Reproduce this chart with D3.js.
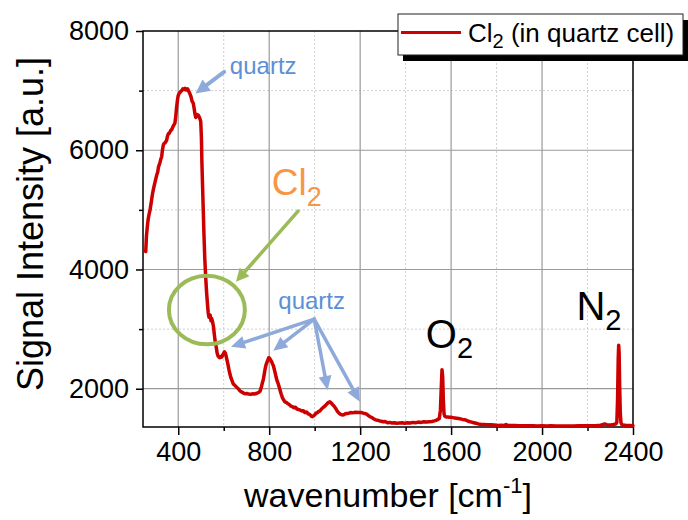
<!DOCTYPE html>
<html>
<head>
<meta charset="utf-8">
<script src="https://cdn.jsdelivr.net/npm/d3@7"></script>
<style>
  html, body { margin: 0; padding: 0; background: #fff; }
  svg { display: block; }
</style>
</head>
<body>
<svg id="chart" width="688" height="520"></svg>
<script>
// Raman spectrum of Cl2 in a quartz cell (wavenumber in cm^-1, intensity in a.u.)
const wavenumber = [
  257, 260, 264, 268, 272, 276, 281, 286, 290, 295, 300, 305, 310, 313, 316, 320, 324, 327, 330, 334,
  337, 341, 345, 349, 353, 357, 360, 364, 368, 371, 375, 380, 385, 389, 393, 397, 400, 405, 410, 415,
  420, 425, 430, 434, 437, 441, 446, 451, 456, 461, 466, 470, 473, 477, 481, 485, 488, 492, 496, 499,
  502, 504, 507, 510, 513, 517, 521, 525, 529, 532, 535, 538, 541, 544, 547, 551, 555, 559, 563, 567,
  571, 575, 579, 583, 587, 591, 595, 599, 603, 607, 611, 615, 619, 623, 627, 632, 637, 642, 648, 653,
  658, 664, 670, 676, 682, 688, 695, 702, 710, 718, 726, 734, 742, 750, 756, 760, 765, 770, 774, 778,
  782, 786, 790, 794, 798, 802, 806, 810, 814, 818, 822, 826, 830, 835, 840, 846, 852, 858, 864, 869,
  875, 882, 888, 895, 902, 908, 915, 922, 930, 937, 944, 950, 957, 964, 971, 978, 985, 990, 995, 1000,
  1006, 1012, 1018, 1024, 1030, 1036, 1042, 1048, 1055, 1061, 1067, 1073, 1080, 1087, 1094, 1100, 1107, 1114, 1121, 1128,
  1135, 1142, 1150, 1158, 1166, 1174, 1182, 1190, 1198, 1206, 1214, 1222, 1230, 1238, 1246, 1254, 1262, 1270, 1278, 1286,
  1294, 1302, 1310, 1320, 1330, 1340, 1350, 1360, 1372, 1384, 1396, 1408, 1420, 1432, 1444, 1456, 1468, 1480, 1492, 1504,
  1516, 1526, 1534, 1540, 1548, 1553, 1556, 1560, 1563, 1566, 1569, 1572, 1576, 1580, 1585, 1592, 1600, 1608, 1616, 1624,
  1632, 1640, 1650, 1660, 1670, 1680, 1690, 1700, 1710, 1720, 1730, 1745, 1760, 1775, 1790, 1805, 1820, 1835, 1842, 1848,
  1860, 1880, 1900, 1920, 1940, 1960, 1980, 2000, 2020, 2040, 2060, 2080, 2100, 2120, 2140, 2160, 2180, 2200, 2220, 2240,
  2255, 2265, 2275, 2285, 2295, 2305, 2315, 2325, 2329, 2332, 2335, 2337, 2339, 2341, 2344, 2347, 2352, 2358, 2370, 2385,
  2400
];
const intensity = [
  4300, 4550, 4720, 4850, 4930, 5000, 5120, 5250, 5330, 5420, 5500, 5580, 5640, 5720, 5750, 5800, 5860, 5890, 5990, 6080,
  6110, 6120, 6140, 6170, 6240, 6280, 6280, 6310, 6340, 6340, 6380, 6420, 6450, 6560, 6730, 6850, 6920, 6960, 6980, 7000,
  7030, 7020, 7040, 7010, 7010, 7030, 6990, 6950, 6900, 6820, 6790, 6700, 6620, 6550, 6600, 6580, 6590, 6560, 6520, 6480,
  6200, 5800, 5400, 5000, 4600, 4160, 3850, 3600, 3400, 3270, 3200, 3240, 3230, 3140, 3180, 3120, 3040, 2900, 2780, 2700,
  2600, 2550, 2530, 2520, 2540, 2530, 2560, 2590, 2620, 2600, 2540, 2470, 2400, 2320, 2250, 2180, 2130, 2080, 2060, 2040,
  2020, 2000, 1970, 1950, 1940, 1925, 1915, 1920, 1910, 1905, 1915, 1910, 1920, 1930, 1945, 1960, 2020, 2100, 2150, 2240,
  2330, 2400, 2440, 2480, 2520, 2510, 2480, 2460, 2420, 2390, 2330, 2270, 2200, 2130, 2080, 2000, 1920, 1850, 1810, 1780,
  1770, 1750, 1735, 1710, 1700, 1680, 1690, 1660, 1650, 1640, 1625, 1630, 1600, 1610, 1580, 1570, 1540, 1530, 1545, 1560,
  1590, 1600, 1620, 1630, 1660, 1680, 1700, 1720, 1750, 1770, 1780, 1760, 1730, 1700, 1660, 1620, 1590, 1570, 1560, 1565,
  1580, 1585, 1590, 1600, 1595, 1600, 1605, 1600, 1600, 1600, 1590, 1585, 1570, 1545, 1525, 1510, 1490, 1475, 1470, 1460,
  1455, 1445, 1450, 1430, 1435, 1425, 1430, 1420, 1425, 1430, 1420, 1430, 1425, 1435, 1430, 1440, 1435, 1445, 1440, 1445,
  1450, 1460, 1470, 1480, 1500, 1640, 1950, 2320, 2200, 1800, 1580, 1540, 1530, 1525, 1525, 1520, 1520, 1515, 1510, 1505,
  1500, 1495, 1485, 1480, 1465, 1450, 1440, 1430, 1420, 1410, 1405, 1400, 1395, 1395, 1390, 1385, 1388, 1385, 1400, 1388,
  1382, 1385, 1380, 1380, 1378, 1380, 1376, 1378, 1376, 1377, 1375, 1376, 1375, 1376, 1375, 1377, 1378, 1377, 1380, 1382,
  1385, 1395, 1410, 1398, 1392, 1395, 1400, 1410, 1440, 1800, 2500, 2730, 2600, 2100, 1600, 1430, 1395, 1390, 1385, 1383,
  1380
];

const seriesLabel = "Cl";
const seriesLabelSub = "2";
const seriesLabelRest = " (in quartz cell)";

const xTicks = [400, 800, 1200, 1600, 2000, 2400];
const xMinorTicks = [600, 1000, 1400, 1800, 2200];
const yTicks = [2000, 4000, 6000, 8000];
const yMinorTicks = [3000, 5000, 7000];
const xDomain = [245, 2400];
const yDomain = [1358, 8000];

const xTitle = "wavenumber [cm";
const xTitleSup = "-1";
const yTitle = "Signal Intensity [a.u.]";

// Annotation anchors, in data coordinates
const quartzTopLabel = [627, 7276];
const quartzTopArrow = [[602, 7314], [476, 6952]];
const cl2Label = [811, 5247];
const cl2Arrow = [[927, 4979], [654, 3794]];
const cl2Circle = { cx: 526, cy: 3319, rx: 167, ry: 575 };
const quartzLowLabel = [840, 3336];
const quartzLowOrigin = [998, 3168];
const quartzLowTips = [[632, 2704], [818, 2637], [1057, 1978], [1199, 1782]];
const o2Label = [1489, 2677];
const n2Label = [2151, 3152];

const FONT = "'Liberation Sans', Arial, Helvetica, sans-serif";
const RED = "#cc0000";
const BLUE_TEXT = "#5b8fd8";
const BLUE_ARROW = "#8eaadb";
const GREEN = "#9bbb59";
const ORANGE = "#f79646";

const svg = d3.select("#chart");
const W = 688, H = 520;
const margin = { top: 31, right: 55, bottom: 93, left: 143 };
const iw = W - margin.left - margin.right;
const ih = H - margin.top - margin.bottom;

const x = d3.scaleLinear().domain(xDomain).range([0, iw]);
const y = d3.scaleLinear().domain(yDomain).range([ih, 0]);

const g = svg.append("g").attr("transform", `translate(${margin.left},${margin.top})`);

// Minor grid (dotted)
g.append("g").selectAll("line.vminor").data(xMinorTicks).join("line")
  .attr("x1", d => x(d)).attr("x2", d => x(d)).attr("y1", 0).attr("y2", ih)
  .attr("stroke", "#cfcfcf").attr("stroke-width", 1).attr("stroke-dasharray", "2,2");
g.append("g").selectAll("line.hminor").data(yMinorTicks).join("line")
  .attr("y1", d => y(d)).attr("y2", d => y(d)).attr("x1", 0).attr("x2", iw)
  .attr("stroke", "#cfcfcf").attr("stroke-width", 1).attr("stroke-dasharray", "2,2");

// Major grid (solid)
g.append("g").selectAll("line").data(xTicks.filter(d => d < xDomain[1])).join("line")
  .attr("x1", d => x(d)).attr("x2", d => x(d)).attr("y1", 0).attr("y2", ih)
  .attr("stroke", "#9a9a9a").attr("stroke-width", 1.2);
g.append("g").selectAll("line").data(yTicks.filter(d => d < yDomain[1])).join("line")
  .attr("y1", d => y(d)).attr("y2", d => y(d)).attr("x1", 0).attr("x2", iw)
  .attr("stroke", "#9a9a9a").attr("stroke-width", 1.2);

// Axes
function styleAxis(sel) {
  sel.select(".domain").remove();
  sel.selectAll("line").attr("stroke", "#000").attr("stroke-width", 1.5);
  sel.selectAll("text").attr("font-family", FONT).attr("font-size", 27).attr("fill", "#000");
}
g.append("g").attr("transform", `translate(0,${ih})`)
  .call(d3.axisBottom(x).tickValues(xMinorTicks).tickSize(4).tickFormat(""))
  .call(styleAxis);
g.append("g").attr("transform", `translate(0,${ih})`)
  .call(d3.axisBottom(x).tickValues(xTicks).tickSize(8).tickPadding(7).tickFormat(d3.format("d")))
  .call(styleAxis);
g.append("g")
  .call(d3.axisLeft(y).tickValues(yMinorTicks).tickSize(4).tickFormat(""))
  .call(styleAxis);
g.append("g")
  .call(d3.axisLeft(y).tickValues(yTicks).tickSize(7).tickPadding(7).tickFormat(d3.format("d")))
  .call(styleAxis);

// Frame
g.append("rect").attr("x", 0).attr("y", 0).attr("width", iw).attr("height", ih)
  .attr("fill", "none").attr("stroke", "#000").attr("stroke-width", 1.5);

// Spectrum
const points = wavenumber.map((w, i) => [w, intensity[i]]);
const line = d3.line().x(d => x(d[0])).y(d => y(d[1]));
g.append("path").datum(points)
  .attr("d", line)
  .attr("fill", "none").attr("stroke", RED).attr("stroke-width", 3.5)
  .attr("stroke-linejoin", "round").attr("stroke-linecap", "round");

// Arrow helper: shaft plus triangular head
function arrow(from, to, color, width, headLen, headW) {
  const x1 = x(from[0]), y1 = y(from[1]), x2 = x(to[0]), y2 = y(to[1]);
  const dx = x2 - x1, dy = y2 - y1, len = Math.hypot(dx, dy);
  const ux = dx / len, uy = dy / len;
  const bx = x2 - ux * headLen, by = y2 - uy * headLen;
  g.append("line").attr("x1", x1).attr("y1", y1).attr("x2", bx + ux * 1).attr("y2", by + uy * 1)
    .attr("stroke", color).attr("stroke-width", width).attr("stroke-linecap", "round");
  g.append("path")
    .attr("d", `M${x2},${y2}L${bx - uy * headW / 2},${by + ux * headW / 2}L${bx + uy * headW / 2},${by - ux * headW / 2}Z`)
    .attr("fill", color);
}

// "quartz" label near the main quartz band
g.append("text").attr("x", x(quartzTopLabel[0])).attr("y", y(quartzTopLabel[1]))
  .attr("font-family", FONT).attr("font-size", 24).attr("fill", BLUE_TEXT).text("quartz");
arrow(quartzTopArrow[0], quartzTopArrow[1], BLUE_ARROW, 4, 14, 14);

// Cl2 label, arrow and circle
const clText = g.append("text").attr("x", x(cl2Label[0])).attr("y", y(cl2Label[1]))
  .attr("font-family", FONT).attr("font-size", 37).attr("fill", ORANGE);
clText.append("tspan").text("Cl");
clText.append("tspan").attr("font-size", 27).attr("dy", 11).text("2");
arrow(cl2Arrow[0], cl2Arrow[1], GREEN, 3.5, 13, 13);
g.append("ellipse")
  .attr("cx", x(cl2Circle.cx)).attr("cy", y(cl2Circle.cy))
  .attr("rx", x(cl2Circle.cx + cl2Circle.rx) - x(cl2Circle.cx))
  .attr("ry", y(cl2Circle.cy) - y(cl2Circle.cy + cl2Circle.ry))
  .attr("fill", "none").attr("stroke", GREEN).attr("stroke-width", 4);

// Lower "quartz" label with arrows to the weaker quartz bands
g.append("text").attr("x", x(quartzLowLabel[0])).attr("y", y(quartzLowLabel[1]))
  .attr("font-family", FONT).attr("font-size", 24).attr("fill", BLUE_TEXT).text("quartz");
quartzLowTips.forEach(t => arrow(quartzLowOrigin, t, BLUE_ARROW, 3.5, 14, 13));

// O2 and N2 labels
function gasLabel(pos, main) {
  const t = g.append("text").attr("x", x(pos[0])).attr("y", y(pos[1]))
    .attr("font-family", FONT).attr("font-size", 40).attr("fill", "#000");
  t.append("tspan").text(main);
  t.append("tspan").attr("font-size", 29).attr("dy", 10).text("2");
}
gasLabel(o2Label, "O");
gasLabel(n2Label, "N");

// Axis titles
const xt = svg.append("text")
  .attr("x", margin.left + iw / 2).attr("y", 507)
  .attr("text-anchor", "middle")
  .attr("font-family", FONT).attr("font-size", 34).attr("fill", "#000");
xt.append("tspan").text(xTitle);
xt.append("tspan").attr("font-size", 22).attr("dy", -14).text(xTitleSup);
xt.append("tspan").attr("dy", 14).text("]");

svg.append("text")
  .attr("transform", `translate(43,${margin.top + ih / 2 - 5}) rotate(-90)`)
  .attr("text-anchor", "middle")
  .attr("font-family", FONT).attr("font-size", 36).attr("fill", "#000")
  .text(yTitle);

// Legend with drop shadow
const lg = svg.append("g").attr("transform", "translate(398,14)");
lg.append("rect").attr("x", 5).attr("y", 6).attr("width", 285).attr("height", 41).attr("fill", "#000");
lg.append("rect").attr("x", 0).attr("y", 0).attr("width", 285).attr("height", 41)
  .attr("fill", "#fff").attr("stroke", "#222").attr("stroke-width", 1);
lg.append("line").attr("x1", 3).attr("x2", 63).attr("y1", 18.5).attr("y2", 18.5)
  .attr("stroke", RED).attr("stroke-width", 3);
const lt = lg.append("text").attr("x", 70).attr("y", 28)
  .attr("font-family", FONT).attr("font-size", 26).attr("fill", "#000");
lt.append("tspan").text(seriesLabel);
lt.append("tspan").attr("font-size", 20).attr("dy", 6).text(seriesLabelSub);
lt.append("tspan").attr("dy", -6).text(seriesLabelRest);
</script>
</body>
</html>
